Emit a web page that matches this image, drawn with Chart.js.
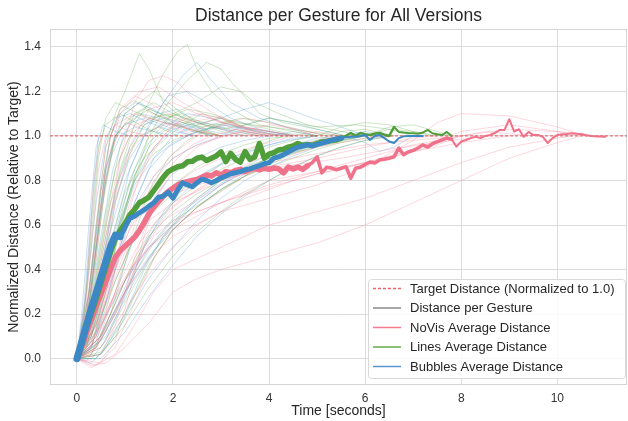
<!DOCTYPE html>
<html>
<head>
<meta charset="utf-8">
<script src="https://cdn.jsdelivr.net/npm/chart.js@4.4.1/dist/chart.umd.min.js"></script>
<style>
  html, body { margin: 0; padding: 0; background: #fff; }
  #wrap { width: 628px; height: 421px; }
</style>
</head>
<body>
<div id="wrap"><canvas id="chart" width="628" height="421"></canvas></div>
<script>
// ---- data ----
const xTicks = [0, 2, 4, 6, 8, 10];
const yTicks = [0.0, 0.2, 0.4, 0.6, 0.8, 1.0, 1.2, 1.4];
const xMin = -0.56, xMax = 11.45;
const yMin = -0.118, yMax = 1.48;
const targetValue = 1.0;

// sample times of the averaged curves (seconds)
const avgTime = [
  0.0, 0.1, 0.2, 0.3, 0.4, 0.5, 0.6, 0.7, 0.8, 0.9,
  1.0, 1.1, 1.2, 1.3, 1.4, 1.5, 1.6, 1.7, 1.8, 1.9,
  2.0, 2.1, 2.2, 2.3, 2.4, 2.5, 2.6, 2.7, 2.8, 2.9,
  3.0, 3.1, 3.2, 3.3, 3.4, 3.5, 3.6, 3.7, 3.8, 3.9,
  4.0, 4.1, 4.2, 4.3, 4.4, 4.5, 4.6, 4.7, 4.8, 4.9,
  5.0, 5.1, 5.2, 5.3, 5.4, 5.5, 5.6, 5.7, 5.8, 5.9,
  6.0, 6.1, 6.2, 6.3, 6.4, 6.5, 6.6, 6.7, 6.8, 6.9,
  7.0, 7.1, 7.2, 7.3, 7.4, 7.5, 7.6, 7.7, 7.8, 7.9,
  8.0, 8.1, 8.2, 8.3, 8.4, 8.5, 8.6, 8.7, 8.8, 8.9,
  9.0, 9.1, 9.2, 9.3, 9.4, 9.5, 9.6, 9.7, 9.8, 9.9,
  10.0, 10.1, 10.2, 10.3, 10.4, 10.5, 10.6, 10.7, 10.8, 10.9,
  11.0
];

const noVisAvg = [
  0, 0.055, 0.115, 0.175, 0.235, 0.29, 0.345, 0.40, 0.455, 0.485,
  0.505, 0.525, 0.545, 0.575, 0.61, 0.65, 0.68, 0.705, 0.73, 0.75,
  0.765, 0.78, 0.79, 0.795, 0.80, 0.805, 0.815, 0.825, 0.82, 0.835,
  0.825, 0.84, 0.835, 0.845, 0.85, 0.84, 0.85, 0.855, 0.848, 0.855,
  0.85, 0.856, 0.852, 0.834, 0.86, 0.852, 0.86, 0.85, 0.866, 0.88,
  0.906, 0.834, 0.86, 0.856, 0.848, 0.855, 0.862, 0.81, 0.855, 0.86,
  0.872, 0.883, 0.878, 0.892, 0.895, 0.90, 0.906, 0.946, 0.915, 0.928,
  0.935, 0.946, 0.96, 0.95, 0.965, 0.973, 0.982, 0.99, 0.985, 0.952,
  0.975, 0.982, 0.99, 0.996, 0.99, 1.0, 1.004, 1.013, 1.027, 1.027,
  1.075, 1.02, 1.03, 0.996, 1.018, 1.004, 1.004, 0.996, 0.968, 0.99,
  1.004, 1.008, 1.009, 1.012, 1.01, 1.009, 1.003, 1.0, 0.998, 0.997,
  0.996
];

const linesAvg = [
  0, 0.07, 0.14, 0.205, 0.27, 0.34, 0.41, 0.48, 0.54, 0.575,
  0.605, 0.645, 0.67, 0.70, 0.712, 0.725, 0.755, 0.785, 0.815, 0.84,
  0.852, 0.862, 0.866, 0.884, 0.886, 0.90, 0.905, 0.89, 0.90, 0.91,
  0.928, 0.885, 0.922, 0.895, 0.882, 0.93, 0.895, 0.905, 0.966, 0.90,
  0.918, 0.925, 0.937, 0.94, 0.95, 0.955, 0.966, 0.958, 0.962, 0.958,
  0.965, 0.973, 0.975, 0.98, 0.982, 0.99, 1.0, 1.013, 1.0, 1.013,
  1.008, 1.004, 1.01, 1.013, 1.006, 1.0, 1.04, 1.018, 1.015, 1.013,
  1.012, 1.01, 1.015, 1.027, 1.012, 1.008, 1.004, 1.018, 1.0
];

const bubblesAvg = [
  0, 0.075, 0.15, 0.225, 0.295, 0.365, 0.435, 0.505, 0.555, 0.548,
  0.59, 0.63, 0.64, 0.655, 0.668, 0.685, 0.70, 0.725, 0.73, 0.748,
  0.72, 0.758, 0.79, 0.78, 0.772, 0.79, 0.806, 0.80, 0.79, 0.80,
  0.812, 0.82, 0.83, 0.835, 0.84, 0.848, 0.852, 0.86, 0.866, 0.875,
  0.88, 0.90, 0.906, 0.916, 0.928, 0.94, 0.95, 0.955, 0.96, 0.955,
  0.962, 0.968, 0.975, 0.98, 0.986, 0.99, 0.994, 0.996, 0.996, 1.0,
  1.004, 0.982, 1.0, 1.004, 0.99, 0.975, 0.968, 0.99, 0.998, 1.0,
  1.0, 1.0, 1.0
];

// single gestures, [time, distance] pairs
const noVisRuns = [
  [[0,0],[0.3,-0.03],[0.6,-0.02],[1,0.05],[1.5,0.16],[2,0.3],[2.5,0.36],[3,0.4],[4,0.46],[5,0.52],[6,0.6],[7,0.7],[8,0.8],[9,0.9],[10,0.97],[10.5,1.0]],
  [[0,0],[0.3,-0.04],[0.8,0.02],[1.2,0.15],[1.6,0.3],[2,0.4],[3,0.5],[4,0.6],[5,0.66],[6,0.72],[7,0.8],[8,0.88],[9,0.95],[10,0.99],[10.3,1.0]],
  [[0,0],[0.5,0.1],[1,0.3],[1.5,0.45],[2,0.55],[3,0.66],[4,0.72],[5,0.78],[6,0.86],[7,0.98],[7.5,1.06],[8,1.1],[9,1.09],[10,1.04],[10.6,1.0]],
  [[0,0],[0.4,0.05],[0.8,0.2],[1.2,0.4],[1.6,0.55],[2,0.62],[3,0.7],[4,0.77],[5,0.83],[6,0.88],[7,0.94],[8,1.02],[9,1.05],[10,1.02],[10.8,1.0]],
  [[0,0],[0.2,0.2],[0.4,0.6],[0.6,0.95],[0.8,1.05],[1.2,1.1],[1.8,1.06],[2.5,1.02],[3,1.0]],
  [[0,0],[0.3,0.15],[0.6,0.5],[0.9,0.9],[1.2,1.15],[1.5,1.25],[1.8,1.27],[2.1,1.24],[2.5,1.15],[3,1.08],[3.5,1.03],[4,1.0]],
  [[0,0],[0.2,0.05],[0.5,0.3],[0.8,0.7],[1.1,0.95],[1.5,1.12],[2,1.15],[2.5,1.1],[3,1.06],[4,1.02],[4.5,1.0]],
  [[0,0],[0.5,0.02],[0.8,0.15],[1.2,0.45],[1.6,0.7],[2,0.85],[2.5,0.95],[3,1.0],[3.5,1.02],[4,1.0]],
  [[0,0],[0.4,-0.03],[0.8,0.05],[1.2,0.25],[1.6,0.45],[2,0.58],[2.5,0.68],[3,0.75],[3.5,0.82],[4,0.88],[4.5,0.93],[5,0.97],[5.5,1.0]],
  [[0,0],[0.3,0.1],[0.6,0.3],[1,0.5],[1.5,0.62],[2,0.7],[3,0.8],[4,0.86],[5,0.9],[6,0.95],[7,0.99],[7.5,1.0]],
  [[0,0],[0.2,0.3],[0.35,0.8],[0.5,1.0]],
  [[0,0],[0.3,0.2],[0.6,0.6],[0.9,0.9],[1.2,1.05],[1.6,1.08],[2,1.04],[2.5,1.0]],
  [[0,0],[0.5,0.1],[1,0.35],[1.5,0.55],[2,0.68],[2.5,0.76],[3,0.82],[4,0.88],[5,0.92],[6,0.96],[7,0.98],[8,1.0],[9,1.03],[10,1.02],[10.6,1.0]],
  [[0,0],[0.3,0.05],[0.7,0.35],[1.1,0.7],[1.5,0.92],[2,1.05],[2.5,1.1],[3,1.08],[3.5,1.04],[4,1.01],[4.5,1.0]],
  [[0,0],[0.4,0.15],[0.8,0.45],[1.2,0.62],[1.8,0.72],[2.5,0.78],[3.5,0.83],[4.5,0.87],[5.5,0.9],[6.5,0.94],[7.5,0.97],[8.5,1.0]],
  [[0,0],[0.3,0.35],[0.6,0.85],[0.9,1.1],[1.3,1.2],[1.7,1.22],[2.2,1.15],[2.8,1.08],[3.5,1.03],[4.2,1.0]],
  [[0,0],[0.5,0.2],[1,0.48],[1.5,0.66],[2,0.78],[2.5,0.85],[3,0.9],[3.5,0.94],[4,0.97],[4.5,1.0],[5,1.02],[5.5,1.0]],
  [[0,0],[0.2,-0.01],[0.6,0.12],[1,0.3],[1.4,0.5],[1.8,0.62],[2.4,0.7],[3,0.78],[3.6,0.85],[4.2,0.9],[5,0.95],[6,0.99],[6.5,1.0]],
  [[0,0],[0.2,0.1],[0.4,0.45],[0.6,0.8],[0.8,0.98],[1.0,1.06],[1.3,1.04],[1.6,1.1],[2.0,1.07],[2.4,1.02],[2.8,1.05],[3.3,1.01],[3.8,1.0]],
  [[0,0],[0.3,0.02],[0.6,0.2],[0.9,0.5],[1.2,0.75],[1.5,0.9],[1.8,1.0],[2.2,1.08],[2.6,1.05],[3,1.09],[3.4,1.04],[4,1.02],[4.6,1.0]],
  [[0,0],[0.5,-0.02],[0.8,0.08],[1.1,0.3],[1.4,0.55],[1.7,0.75],[2.0,0.88],[2.4,0.96],[2.8,1.0],[3.3,1.03],[3.8,1.01],[4.3,1.0]],
  [[0,0],[0.4,0.1],[0.8,0.28],[1.2,0.42],[1.6,0.52],[2,0.6],[2.5,0.66],[3,0.7],[3.5,0.75],[4,0.8],[4.5,0.82],[5,0.84],[5.5,0.86],[6,0.88],[6.5,0.9],[7,0.93],[7.5,0.96],[8,1.0],[8.5,1.02],[9,1.01],[9.5,1.0]],
  [[0,0],[0.3,0.08],[0.7,0.25],[1.1,0.4],[1.5,0.5],[2,0.58],[2.5,0.64],[3,0.7],[3.5,0.74],[4,0.78],[5,0.84],[6,0.9],[7,0.96],[8,1.0]],
  [[0,0],[0.25,0.25],[0.5,0.7],[0.7,1.0],[0.9,1.12],[1.2,1.18],[1.5,1.15],[1.9,1.1],[2.3,1.06],[2.8,1.08],[3.3,1.03],[3.8,1.0]],
  [[0,0],[0.4,0.05],[0.8,0.3],[1.2,0.6],[1.6,0.8],[2,0.9],[2.4,0.95],[2.8,0.98],[3.4,1.02],[4,1.05],[4.6,1.03],[5.2,1.0]],
  [[0,0],[0.2,0.02],[0.5,0.15],[0.9,0.35],[1.3,0.52],[1.7,0.63],[2.2,0.72],[2.8,0.79],[3.4,0.86],[4,0.92],[4.6,0.96],[5.2,0.99],[5.8,1.0]],
  [[0,0],[0.3,0.2],[0.6,0.55],[0.9,0.82],[1.2,0.96],[1.5,1.02],[1.9,1.06],[2.4,1.03],[3,1.0]],
  [[0,0],[0.5,0.05],[1,0.22],[1.5,0.38],[2,0.5],[2.5,0.6],[3,0.66],[3.5,0.72],[4,0.76],[4.5,0.8],[5,0.83],[5.5,0.85],[6,0.88],[7,0.93],[8,0.97],[9,1.0]],
  [[0,0],[0.15,0.15],[0.3,0.5],[0.45,0.85],[0.6,1.0],[0.8,1.05],[1.1,1.02],[1.5,1.0]],
  [[0,0],[0.4,0.12],[0.8,0.4],[1.2,0.65],[1.6,0.82],[2,0.92],[2.5,1.0],[3,1.05],[3.5,1.08],[4,1.06],[4.5,1.03],[5,1.0]]
];

const linesRuns = [
  [[0,0],[0.2,0.2],[0.4,0.6],[0.6,0.95],[0.8,1.1],[1.0,1.2],[1.3,1.37],[1.5,1.3],[1.8,1.15],[2.2,1.08],[2.6,1.03],[3,1.0]],
  [[0,0],[0.3,0.2],[0.6,0.55],[0.9,0.85],[1.2,1.05],[1.5,1.15],[1.8,1.28],[2.1,1.38],[2.3,1.41],[2.5,1.3],[2.8,1.2],[3.2,1.12],[3.8,1.05],[4.5,1.02],[5,1.0]],
  [[0,0],[0.3,0.1],[0.7,0.4],[1.1,0.75],[1.5,1.0],[1.9,1.15],[2.3,1.25],[2.7,1.33],[3.0,1.3],[3.3,1.22],[3.7,1.15],[4.2,1.1],[4.8,1.05],[5.5,1.02],[6,1.0]],
  [[0,0],[0.4,0.15],[0.8,0.5],[1.2,0.8],[1.6,1.0],[2,1.1],[2.5,1.15],[3,1.22],[3.4,1.2],[3.8,1.1],[4.3,1.06],[5,1.03],[5.6,1.0]],
  [[0,0],[0.15,0.2],[0.3,0.6],[0.45,0.95],[0.6,1.05],[0.9,1.1],[1.3,1.05],[1.8,1.0]],
  [[0,0],[0.3,0.25],[0.6,0.65],[0.9,0.95],[1.2,1.1],[1.6,1.15],[2,1.1],[2.5,1.06],[3,1.02],[3.5,1.0]],
  [[0,0],[0.5,0.03],[1,0.2],[1.5,0.42],[2,0.58],[2.5,0.68],[3,0.76],[3.5,0.82],[4,0.87],[4.5,0.92],[5,0.96],[5.5,0.99],[6,1.0]],
  [[0,0],[0.4,0.1],[0.8,0.35],[1.2,0.55],[1.6,0.68],[2,0.78],[2.5,0.86],[3,0.92],[3.5,0.96],[4,0.99],[4.5,1.0]],
  [[0,0],[0.2,0.1],[0.5,0.5],[0.8,0.85],[1.1,1.0],[1.5,1.08],[2,1.1],[2.5,1.06],[3,1.03],[3.5,1.05],[4,1.08],[4.5,1.06],[5,1.04],[5.8,1.05],[6.5,1.03],[7,1.0]],
  [[0,0],[0.5,0.05],[1,0.25],[1.5,0.45],[2,0.6],[2.5,0.72],[3,0.8],[3.5,0.86],[4,0.9],[5,0.95],[6,1.0],[6.5,1.04],[7,1.05],[7.5,1.02],[7.8,1.0]],
  [[0,0],[0.3,0.15],[0.6,0.45],[1,0.75],[1.4,0.9],[1.8,0.98],[2.2,1.05],[2.6,1.1],[3,1.08],[3.5,1.02],[4,1.0]],
  [[0,0],[0.2,0.15],[0.4,0.45],[0.6,0.8],[0.8,1.0],[1.0,1.05],[1.5,1.12],[2,1.08],[2.5,1.03],[3,1.0]],
  [[0,0],[0.4,0.05],[0.8,0.2],[1.2,0.38],[1.6,0.52],[2,0.62],[2.6,0.7],[3.2,0.78],[3.8,0.86],[4.4,0.93],[5,0.98],[5.5,1.02],[6,1.03],[6.6,1.0]],
  [[0,0],[0.25,0.3],[0.5,0.75],[0.7,1.0],[0.9,1.12],[1.2,1.16],[1.6,1.1],[2.2,1.04],[2.8,1.0]],
  [[0,0],[0.3,0.08],[0.7,0.3],[1.1,0.5],[1.5,0.64],[2,0.74],[2.6,0.82],[3.2,0.9],[3.8,0.96],[4.3,1.0]],
  [[0,0],[0.3,0.12],[0.7,0.45],[1.1,0.8],[1.5,1.0],[1.9,1.08],[2.3,1.12],[2.8,1.1],[3.3,1.06],[4,1.04],[4.8,1.02],[5.5,1.0]],
  [[0,0],[0.2,0.15],[0.4,0.5],[0.6,0.85],[0.8,1.0],[1.1,1.08],[1.4,1.12],[1.8,1.08],[2.2,1.1],[2.6,1.06],[3,1.08],[3.5,1.04],[4,1.02],[4.5,1.0]],
  [[0,0],[0.3,0.05],[0.6,0.3],[0.9,0.6],[1.2,0.82],[1.5,0.95],[1.8,1.02],[2.2,1.06],[2.6,1.04],[3.2,1.07],[3.8,1.04],[4.4,1.01],[5,1.0]],
  [[0,0],[0.4,0.0],[0.8,0.1],[1.2,0.28],[1.6,0.45],[2,0.58],[2.5,0.68],[3,0.76],[3.5,0.82],[4,0.86],[4.5,0.9],[5,0.94],[5.5,0.97],[6,0.99],[6.5,1.0]],
  [[0,0],[0.25,0.25],[0.5,0.65],[0.75,0.95],[1,1.1],[1.3,1.15],[1.6,1.2],[1.9,1.15],[2.3,1.08],[2.8,1.05],[3.3,1.02],[3.8,1.0]],
  [[0,0],[0.3,0.1],[0.6,0.35],[0.9,0.62],[1.2,0.8],[1.6,0.92],[2,0.98],[2.5,1.02],[3,1.0]],
  [[0,0],[0.5,0.1],[1,0.35],[1.5,0.55],[2,0.66],[2.5,0.74],[3,0.8],[3.5,0.85],[4,0.9],[4.5,0.93],[5,0.96],[5.5,0.98],[6,1.0],[6.5,1.03],[7,1.02],[7.5,1.0]],
  [[0,0],[0.2,0.05],[0.5,0.35],[0.8,0.7],[1.1,0.92],[1.4,1.05],[1.8,1.1],[2.2,1.07],[2.7,1.03],[3.2,1.06],[3.7,1.02],[4.2,1.0]],
  [[0,0],[0.15,0.2],[0.3,0.55],[0.45,0.9],[0.6,1.08],[0.8,1.15],[1.1,1.12],[1.5,1.08],[2,1.05],[2.5,1.02],[3,1.0]],
  [[0,0],[0.4,0.06],[0.8,0.25],[1.2,0.45],[1.6,0.6],[2,0.7],[2.5,0.78],[3,0.85],[3.5,0.9],[4,0.95],[4.5,0.98],[5,1.0],[5.5,1.04],[6,1.06],[6.5,1.05],[7,1.02],[7.4,1.0]],
  [[0,0],[0.3,0.02],[0.7,0.2],[1.1,0.5],[1.5,0.75],[1.9,0.9],[2.3,0.98],[2.8,1.04],[3.4,1.08],[4,1.06],[4.6,1.03],[5.2,1.0]],
  [[0,0],[0.2,0.1],[0.4,0.35],[0.7,0.7],[1,0.9],[1.3,1.0],[1.7,1.04],[2.1,1.0]],
  [[0,0],[0.5,0.02],[1,0.15],[1.5,0.32],[2,0.46],[2.5,0.57],[3,0.66],[3.5,0.74],[4,0.8],[4.5,0.86],[5,0.91],[5.5,0.95],[6,0.98],[6.6,1.0]]
];

const bubblesRuns = [
  [[0,0],[0.3,0.2],[0.6,0.5],[1,0.8],[1.4,1.0],[1.8,1.15],[2.2,1.27],[2.5,1.33],[2.8,1.25],[3.2,1.15],[3.8,1.08],[4.5,1.03],[5,1.0]],
  [[0,0],[0.15,0.25],[0.3,0.65],[0.45,1.0]],
  [[0,0],[0.2,0.2],[0.4,0.55],[0.6,0.85],[0.8,1.0],[1.0,1.05],[1.4,1.08],[1.9,1.04],[2.4,1.0]],
  [[0,0],[0.3,0.15],[0.7,0.5],[1.1,0.85],[1.5,1.05],[1.9,1.18],[2.3,1.2],[2.7,1.15],[3.2,1.08],[3.8,1.03],[4.5,1.0]],
  [[0,0],[0.5,0.08],[1,0.3],[1.5,0.5],[2,0.63],[2.5,0.72],[3,0.8],[3.5,0.86],[4,0.92],[4.5,0.96],[5,0.99],[5.5,1.0]],
  [[0,0],[0.5,0.0],[1,0.12],[1.5,0.28],[2,0.42],[2.5,0.55],[3,0.65],[3.5,0.73],[4,0.8],[4.5,0.86],[5,0.91],[5.5,0.95],[6,0.98],[6.5,1.0]],
  [[0,0],[0.4,0.1],[0.8,0.4],[1.2,0.7],[1.6,0.9],[2,1.0],[2.5,1.05],[3,1.08],[3.5,1.12],[4,1.15],[4.4,1.12],[4.9,1.08],[5.5,1.04],[6,1.0]],
  [[0,0],[0.25,0.2],[0.5,0.55],[0.75,0.85],[1,1.02],[1.3,1.1],[1.7,1.08],[2.2,1.03],[2.8,1.0]],
  [[0,0],[0.4,0.05],[0.8,0.22],[1.2,0.42],[1.6,0.58],[2,0.7],[2.5,0.8],[3,0.87],[3.5,0.92],[4,0.96],[4.5,0.99],[5,1.0]],
  [[0,0],[0.3,0.1],[0.6,0.35],[0.9,0.6],[1.2,0.78],[1.6,0.9],[2,0.97],[2.5,1.02],[3,1.04],[3.5,1.02],[4,1.0]],
  [[0,0],[0.2,0.1],[0.5,0.4],[0.8,0.75],[1.1,0.95],[1.4,1.05],[1.8,1.08],[2.2,1.06],[2.8,1.02],[3.3,1.0]],
  [[0,0],[0.5,0.15],[1,0.35],[1.5,0.5],[2,0.6],[2.5,0.7],[3,0.78],[3.5,0.85],[4,0.9],[4.5,0.95],[5,0.98],[5.5,1.0],[6,0.97],[6.3,0.93],[6.6,0.95],[7,1.0]],
  [[0,0],[0.3,-0.02],[0.6,0.05],[1,0.2],[1.4,0.4],[1.8,0.55],[2.2,0.66],[2.8,0.76],[3.4,0.84],[4,0.9],[4.6,0.95],[5.2,0.98],[5.8,1.0]],
  [[0,0],[0.2,0.3],[0.4,0.7],[0.6,0.98],[0.8,1.08],[1.1,1.1],[1.5,1.06],[2,1.02],[2.5,1.0]],
  [[0,0],[0.4,0.2],[0.8,0.55],[1.2,0.8],[1.6,0.95],[2,1.03],[2.5,1.06],[3,1.05],[3.5,1.03],[4,1.01],[4.5,1.0]],
  [[0,0],[0.6,0.1],[1.2,0.35],[1.8,0.55],[2.4,0.68],[3,0.78],[3.6,0.85],[4.2,0.9],[4.8,0.95],[5.4,0.98],[6,1.0]],
  [[0,0],[0.2,0.15],[0.4,0.5],[0.6,0.82],[0.8,1.0],[1,1.1],[1.3,1.15],[1.7,1.1],[2.1,1.12],[2.5,1.06],[3,1.03],[3.5,1.0]],
  [[0,0],[0.3,0.05],[0.6,0.25],[0.9,0.5],[1.2,0.7],[1.5,0.85],[1.9,0.95],[2.3,1.0],[2.8,1.04],[3.3,1.02],[3.8,1.0]],
  [[0,0],[0.5,0.02],[1,0.18],[1.5,0.36],[2,0.5],[2.5,0.62],[3,0.72],[3.5,0.8],[4,0.86],[4.5,0.91],[5,0.95],[5.5,0.98],[6,1.0]],
  [[0,0],[0.25,0.3],[0.5,0.75],[0.7,1.0],[0.9,1.1],[1.2,1.15],[1.6,1.12],[2,1.06],[2.6,1.03],[3.2,1.05],[3.8,1.02],[4.3,1.0]],
  [[0,0],[0.4,0.15],[0.8,0.45],[1.2,0.68],[1.6,0.82],[2,0.9],[2.5,0.96],[3,1.0],[3.5,1.05],[4,1.08],[4.5,1.06],[5,1.03],[5.6,1.0]],
  [[0,0],[0.3,0.0],[0.6,0.08],[1,0.28],[1.4,0.5],[1.8,0.66],[2.2,0.76],[2.7,0.84],[3.2,0.9],[3.8,0.95],[4.4,0.98],[5,1.0]],
  [[0,0],[0.1,0.2],[0.25,0.6],[0.4,0.95],[0.55,1.05],[0.8,1.02],[1.1,1.0]],
  [[0,0],[0.3,0.12],[0.6,0.38],[0.9,0.65],[1.2,0.85],[1.5,0.97],[1.9,1.05],[2.3,1.1],[2.8,1.08],[3.3,1.04],[4,1.02],[4.6,1.0]],
  [[0,0],[0.5,0.1],[1,0.3],[1.5,0.46],[2,0.58],[2.5,0.68],[3,0.76],[3.5,0.83],[4,0.88],[4.5,0.93],[5,0.97],[5.5,1.0],[6,1.02],[6.5,1.0]],
  [[0,0],[0.2,0.08],[0.5,0.4],[0.8,0.72],[1.1,0.9],[1.4,1.0],[1.8,1.06],[2.3,1.04],[2.8,1.0]],
  [[0,0],[0.4,0.08],[0.8,0.3],[1.2,0.55],[1.6,0.72],[2,0.83],[2.5,0.9],[3,0.95],[3.5,0.98],[4,1.0],[4.5,1.02],[5,1.0]],
  [[0,0],[0.3,0.3],[0.5,0.68],[0.7,0.9],[0.9,1.0],[1.2,1.04],[1.6,1.02],[2,1.0]]
];

// ---- styling ----
const FONT = "'Liberation Sans', Arial, sans-serif";
const TEXT = '#262626';
const colors = {
  noVis:   { avg: '#f0728a', run: 'rgba(247,113,137,0.28)' },
  lines:   { avg: '#4f9e3a', run: 'rgba(80,160,55,0.28)' },
  bubbles: { avg: '#3c88c4', run: 'rgba(59,140,210,0.28)' }
};

function toXY(times, values) {
  return values.map((v, i) => ({ x: times[i], y: v }));
}

function runSets(runs, color) {
  return runs.map(r => ({
    data: r.map(p => ({ x: p[0], y: p[1] })),
    borderColor: color,
    borderWidth: 1,
    order: 4
  }));
}

// average curves get thinner once few gestures are still running
function avgSet(label, values, color, widthAt) {
  return {
    label: label,
    data: toXY(avgTime, values),
    borderColor: color,
    borderWidth: 5,
    borderJoinStyle: 'round',
    borderCapStyle: 'round',
    segment: {
      borderWidth: ctx => widthAt(avgTime[ctx.p0DataIndex])
    }
  };
}

const datasets = [
  Object.assign(avgSet('Bubbles Average Distance', bubblesAvg, colors.bubbles.avg,
    t => t < 0.9 ? 7 : (t < 5.5 ? 5 : 2)), { order: 0 }),
  Object.assign(avgSet('Lines Average Distance', linesAvg, colors.lines.avg,
    t => t < 5.5 ? 5.5 : (t < 6.6 ? 2.5 : 2)), { order: 1 }),
  Object.assign(avgSet('NoVis Average Distance', noVisAvg, colors.noVis.avg,
    t => t < 4.8 ? 5.5 : (t < 7.8 ? 3.5 : 2)), { order: 2 }),
  {
    label: 'Target Distance (Normalized to 1.0)',
    data: [{ x: xMin, y: targetValue }, { x: xMax, y: targetValue }],
    borderColor: 'rgba(235,60,70,0.85)',
    borderWidth: 1,
    borderDash: [3, 2],
    order: 3
  },
  ...runSets(noVisRuns, colors.noVis.run),
  ...runSets(linesRuns, colors.lines.run),
  ...runSets(bubblesRuns, colors.bubbles.run)
];

const legendItems = [
  { text: 'Target Distance (Normalized to 1.0)', color: 'rgba(240,80,90,0.9)', dash: [3, 2] },
  { text: 'Distance per Gesture', color: '#8a8a8a', dash: [] },
  { text: 'NoVis Average Distance', color: '#f5788e', dash: [] },
  { text: 'Lines Average Distance', color: '#62ad4a', dash: [] },
  { text: 'Bubbles Average Distance', color: '#5796cc', dash: [] }
];

const framePlugin = {
  id: 'frame',
  beforeDatasetsDraw(chart) {
    const { ctx, chartArea: a } = chart;
    ctx.save();
    ctx.strokeStyle = '#d4d4d4';
    ctx.lineWidth = 1;
    ctx.strokeRect(Math.round(a.left) + 0.5, Math.round(a.top) + 0.5,
      Math.round(a.right - a.left) - 1, Math.round(a.bottom - a.top) - 1);
    ctx.restore();
  }
};

const boxLegend = {
  id: 'boxLegend',
  afterDraw(chart) {
    const { ctx, chartArea: a } = chart;
    const w = 257, h = 99;
    const x = a.right - w - 2, y = a.bottom - h - 7;
    ctx.save();
    ctx.beginPath();
    ctx.roundRect(x + 0.5, y + 0.5, w, h, 3);
    ctx.fillStyle = 'rgba(255,255,255,0.85)';
    ctx.fill();
    ctx.strokeStyle = '#d9d9d9';
    ctx.lineWidth = 1;
    ctx.stroke();
    ctx.font = '13px ' + FONT;
    ctx.textBaseline = 'middle';
    legendItems.forEach((it, i) => {
      const cy = y + 9.5 + i * 19.5;
      ctx.beginPath();
      ctx.setLineDash(it.dash);
      ctx.strokeStyle = it.color;
      ctx.lineWidth = 1.5;
      ctx.moveTo(x + 5, cy);
      ctx.lineTo(x + 33, cy);
      ctx.stroke();
      ctx.setLineDash([]);
      ctx.fillStyle = TEXT;
      ctx.fillText(it.text, x + 42, cy + 0.5);
    });
    ctx.restore();
  }
};

new Chart(document.getElementById('chart'), {
  type: 'line',
  data: { datasets: datasets },
  options: {
    responsive: false,
    animation: false,
    devicePixelRatio: 1,
    layout: { padding: { right: 1, left: 0, top: 0, bottom: 0 } },
    elements: { point: { radius: 0, hoverRadius: 0 }, line: { tension: 0 } },
    plugins: {
      legend: { display: false },
      tooltip: { enabled: false },
      title: {
        display: true,
        text: 'Distance per Gesture for All Versions',
        fullSize: false,
        color: TEXT,
        font: { family: FONT, size: 17.5, weight: 'normal' },
        padding: { top: 6, bottom: 2 }
      }
    },
    scales: {
      x: {
        type: 'linear',
        min: xMin,
        max: xMax,
        afterBuildTicks: s => { s.ticks = xTicks.map(v => ({ value: v })); },
        afterFit: s => { s.height = 36; },
        ticks: {
          color: '#333',
          padding: 6,
          font: { family: FONT, size: 12 },
          callback: v => String(v)
        },
        grid: { color: '#dcdcdc', lineWidth: 1, drawTicks: false },
        border: { display: false },
        title: {
          display: true,
          text: 'Time [seconds]',
          color: TEXT,
          font: { family: FONT, size: 14 },
          padding: { top: 4, bottom: 1 }
        }
      },
      y: {
        type: 'linear',
        min: yMin,
        max: yMax,
        afterBuildTicks: s => { s.ticks = yTicks.map(v => ({ value: v })); },
        afterFit: s => { s.width = 50; },
        ticks: {
          color: '#333',
          padding: 9,
          font: { family: FONT, size: 12 },
          callback: v => Number(v).toFixed(1)
        },
        grid: { color: '#dcdcdc', lineWidth: 1, drawTicks: false },
        border: { display: false },
        title: {
          display: true,
          text: 'Normalized Distance (Relative to Target)',
          color: TEXT,
          font: { family: FONT, size: 14 },
          padding: { top: 6, bottom: 2 }
        }
      }
    }
  },
  plugins: [framePlugin, boxLegend]
});
</script>
</body>
</html>
